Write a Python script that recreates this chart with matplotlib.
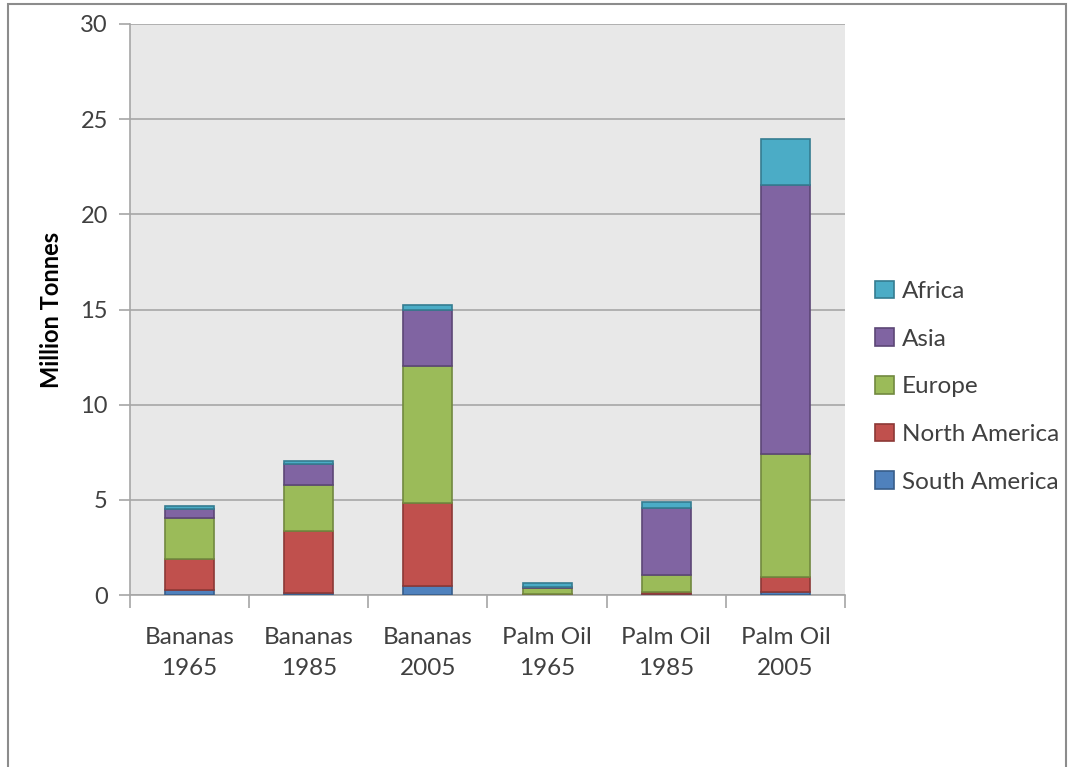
import matplotlib
matplotlib.use('Agg')
import matplotlib.pyplot as plt
import numpy as np
from matplotlib.patches import Rectangle

# Data (million tonnes)
categories = ["Bananas\n1965", "Bananas\n1985", "Bananas\n2005",
              "Palm Oil\n1965", "Palm Oil\n1985", "Palm Oil\n2005"]
south_america = [0.25, 0.10, 0.47, 0.02, 0.03, 0.15]
north_america = [1.65, 3.28, 4.38, 0.03, 0.15, 0.80]
europe = [2.15, 2.40, 7.18, 0.30, 0.85, 6.45]
asia = [0.45, 1.10, 2.95, 0.05, 3.55, 14.15]
africa = [0.17, 0.15, 0.26, 0.22, 0.32, 2.40]

series = [
    ("South America", south_america, "#4F81BD", "#385D8A"),
    ("North America", north_america, "#C0504D", "#8C3836"),
    ("Europe", europe, "#9BBB59", "#71893F"),
    ("Asia", asia, "#8064A2", "#5C4776"),
    ("Africa", africa, "#4BACC6", "#357D91"),
]

plt.rcParams['font.family'] = ['Lato', 'DejaVu Sans']

fig = plt.figure(figsize=(10.73, 7.67), dpi=100)
fig.patch.set_facecolor('white')
W, H = 1073, 767
ax = fig.add_axes([130 / W, 1 - 595 / H, (845 - 130) / W, (595 - 24) / H])
ax.set_facecolor('#e8e8e8')

# outer chart border
fig.patches.append(Rectangle((8 / W, -0.05), (1066 - 8) / W, (1 - 4 / H) + 0.05,
                             transform=fig.transFigure, fill=False,
                             edgecolor='#8c8c8c', linewidth=1.5))

x = np.arange(len(categories))
bottom = np.zeros(len(categories))
handles = []
for name, vals, col, edge in series:
    b = ax.bar(x, vals, 0.41, bottom=bottom, color=col, edgecolor=edge,
               linewidth=1.2, label=name, zorder=3)
    handles.append(b)
    bottom += np.array(vals)

ax.set_xlim(-0.5, len(categories) - 0.5)
ax.set_ylim(0, 30)
ax.set_yticks(range(0, 31, 5))
ax.yaxis.grid(True, color='#a6a6a6', linewidth=1.2, zorder=0)
ax.set_axisbelow(True)

ax.set_xticks(x)
ax.set_xticklabels(categories, fontsize=17.5, color='#404040', linespacing=1.6)
ax.set_xticks(np.arange(-0.5, len(categories), 1), minor=True)
ax.tick_params(axis='x', which='major', length=0, pad=23)
ax.tick_params(axis='x', which='minor', length=9, color='#a6a6a6', width=1.2)
ax.tick_params(axis='y', length=8, color='#a6a6a6', width=1.2, labelsize=17,
               labelcolor='#404040', pad=8)

for s in ['top', 'right']:
    ax.spines[s].set_visible(False)
for s in ['left', 'bottom']:
    ax.spines[s].set_color('#a6a6a6')
    ax.spines[s].set_linewidth(1.2)

ax.set_ylabel("Million Tonnes", fontsize=17, fontweight='bold', labelpad=12)

leg = ax.legend(handles[::-1], [h.get_label() for h in handles[::-1]],
                loc='center left', bbox_to_anchor=(1.012, 0.365), frameon=False,
                fontsize=17.5, handlelength=0.75, handleheight=0.75,
                labelspacing=1.08, handletextpad=0.35)
for t in leg.get_texts():
    t.set_color('#404040')

plt.savefig('out.png', dpi=100)
plt.close()
